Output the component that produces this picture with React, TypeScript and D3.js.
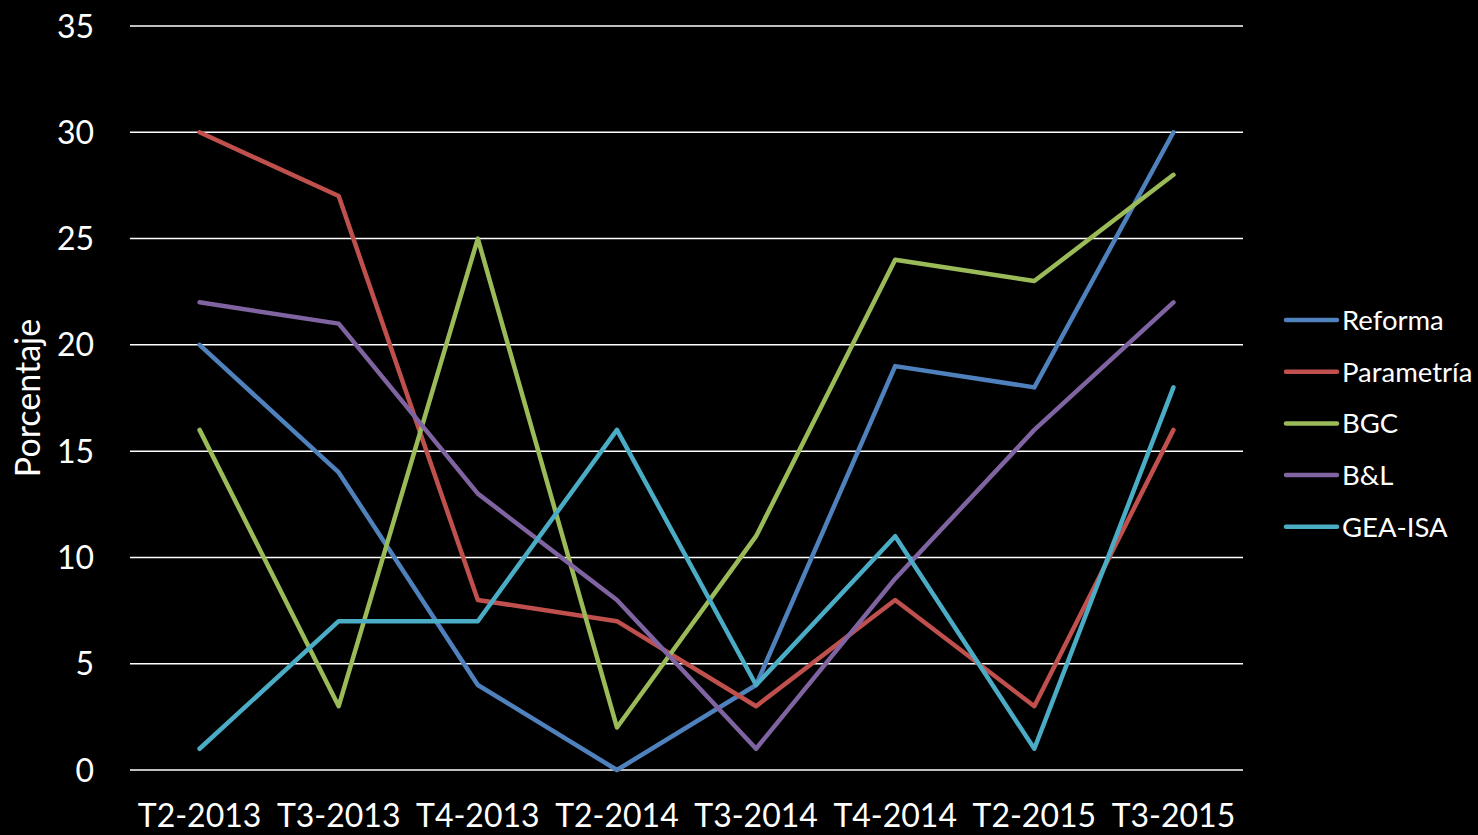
import React from "react";
import * as d3 from "d3";

const categories = ["T2-2013", "T3-2013", "T4-2013", "T2-2014", "T3-2014", "T4-2014", "T2-2015", "T3-2015"];
const reforma = [20, 14, 4, 0, 4, 19, 18, 30];
const parametria = [30, 27, 8, 7, 3, 8, 3, 16];
const bgc = [16, 3, 25, 2, 11, 24, 23, 28];
const bl = [22, 21, 13, 8, 1, 9, 16, 22];
const geaisa = [1, 7, 7, 16, 4, 11, 1, 18];
const yTicks = [0, 5, 10, 15, 20, 25, 30, 35];

const series = [
  { name: "Reforma", values: reforma, color: "#4F81BD" },
  { name: "Parametría", values: parametria, color: "#C0504D" },
  { name: "BGC", values: bgc, color: "#9BBB59" },
  { name: "B&L", values: bl, color: "#8064A2" },
  { name: "GEA-ISA", values: geaisa, color: "#4BACC6" },
];

const W = 1478;
const H = 835;
const FONT = "Lato, 'Open Sans', sans-serif";

export default function App() {
  const x = d3.scaleBand<string>().domain(categories).range([130, 1243]);
  const y = d3.scaleLinear().domain([0, 35]).range([770, 26]);
  const line = d3
    .line<number>()
    .x((_, i) => (x(categories[i]) as number) + x.bandwidth() / 2)
    .y((v) => y(v));

  return (
    <div style={{ position: "fixed", left: 0, top: 0, width: W, height: H, background: "#000" }}>
      <svg width={W} height={H} style={{ display: "block", background: "#000" }}>
        <rect x={0} y={0} width={W} height={H} fill="#000" />
        {yTicks.map((t) => (
          <g key={t}>
            <line x1={130} x2={1243} y1={y(t)} y2={y(t)} stroke="#fff" strokeWidth={1.5} />
            <text x={94} y={y(t)} dy="0.36em" textAnchor="end" fill="#fff" fontFamily={FONT} fontSize={32}>
              {t}
            </text>
          </g>
        ))}
        {categories.map((c) => (
          <text
            key={c}
            x={(x(c) as number) + x.bandwidth() / 2}
            y={827}
            textAnchor="middle"
            fill="#fff"
            fontFamily={FONT}
            fontSize={32}
          >
            {c}
          </text>
        ))}
        <text
          transform={`translate(40,398) rotate(-90)`}
          textAnchor="middle"
          fill="#fff"
          fontFamily={FONT}
          fontSize={34}
        >
          Porcentaje
        </text>
        {series.map((s) => (
          <path
            key={s.name}
            d={line(s.values) || ""}
            fill="none"
            stroke={s.color}
            strokeWidth={4.5}
            strokeLinejoin="round"
            strokeLinecap="round"
          />
        ))}
        {series.map((s, i) => {
          const ly = 320 + i * 51.7;
          return (
            <g key={s.name}>
              <line x1={1286} x2={1337} y1={ly} y2={ly} stroke={s.color} strokeWidth={4.5} strokeLinecap="round" />
              <text x={1342} y={ly} dy="0.36em" fill="#fff" fontFamily={FONT} fontSize={27.5}>
                {s.name}
              </text>
            </g>
          );
        })}
      </svg>
    </div>
  );
}
